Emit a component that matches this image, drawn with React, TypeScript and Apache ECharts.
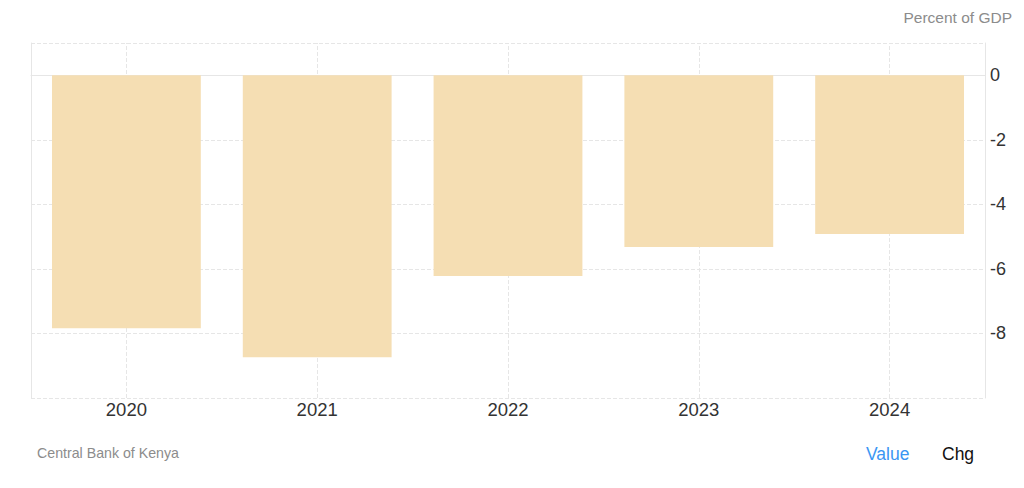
import React, { useEffect, useRef } from "react";
import * as echarts from "echarts";

const categories = ["2020", "2021", "2022", "2023", "2024"];
const values = [-7.84, -8.74, -6.22, -5.32, -4.92];
const yMin = -10;
const yMax = 1;
const yInterval = 2;

export default function App() {
  const ref = useRef<HTMLDivElement>(null);
  useEffect(() => {
    document.body.style.margin = "0";
    const chart = echarts.init(ref.current!, undefined, { renderer: "svg" });
    const font = "'Liberation Sans', Arial, sans-serif";
    chart.setOption({
      animation: false,
      textStyle: { fontFamily: font },
      grid: { left: 31, right: 39, top: 43, bottom: 90, containLabel: false },
      graphic: [
        {
          type: "text",
          right: 12,
          top: 9,
          style: { text: "Percent of GDP", fill: "#8c8c8c", fontSize: 15.5, fontFamily: font },
        },
        {
          type: "text",
          left: 37,
          top: 446,
          style: { text: "Central Bank of Kenya", fill: "#8c8c8c", fontSize: 14.2, fontFamily: font },
        },
        {
          type: "text",
          left: 866,
          top: 445,
          style: { text: "Value", fill: "#3a96f3", fontSize: 17.5, fontFamily: font },
        },
        {
          type: "text",
          left: 942,
          top: 445,
          style: { text: "Chg", fill: "#111", fontSize: 17.5, fontFamily: font },
        },
      ],
      xAxis: {
        type: "category",
        data: categories,
        boundaryGap: true,
        axisLine: { show: true, lineStyle: { color: "#e6e6e6", width: 1 } },
        axisTick: { show: false },
        splitLine: { show: false },
        axisLabel: { color: "#333", fontSize: 18.5, margin: 2, fontFamily: font },
      },
      yAxis: [
        {
          type: "value",
          position: "right",
          min: yMin,
          max: yMax,
          interval: yInterval,
          axisLine: { show: true, lineStyle: { color: "#e6e6e6", width: 1 } },
          axisTick: { show: false },
          axisLabel: {
            color: "#333",
            fontSize: 18,
            margin: 5,
            padding: [0, 0, 5, 0],
            fontFamily: font,
            showMinLabel: false,
            showMaxLabel: false,
          },
          splitLine: { show: true, lineStyle: { color: "#e6e6e6", type: "dashed", width: 1 } },
        },
        {
          type: "value",
          position: "left",
          min: yMin,
          max: yMax,
          interval: yInterval,
          axisLine: { show: true, lineStyle: { color: "#e6e6e6", width: 1 } },
          axisTick: { show: false },
          axisLabel: { show: false },
          splitLine: { show: false },
        },
      ],
      series: [
        {
          type: "line",
          data: [],
          z: 0,
          silent: true,
          markLine: {
            silent: true,
            z: 0,
            symbol: "none",
            label: { show: false },
            lineStyle: { color: "#e6e6e6", type: "dashed", width: 1 },
            data: categories.map((c) => ({ xAxis: c })),
          },
        },
        {
          type: "bar",
          data: values,
          barWidth: "78%",
          z: 3,
          itemStyle: { color: "#f5deb3" },
        },
      ],
    });
    return () => chart.dispose();
  }, []);
  return <div ref={ref} style={{ width: 1024, height: 488 }} />;
}
